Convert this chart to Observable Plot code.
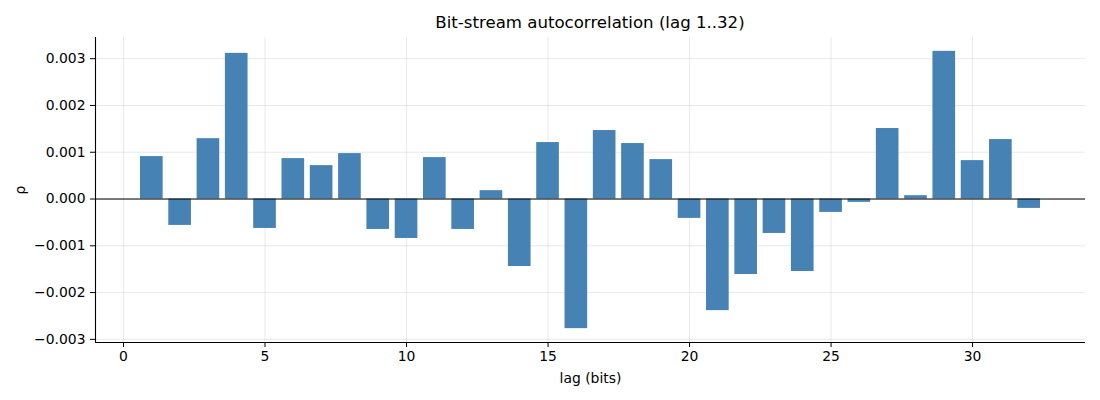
<!DOCTYPE html>
<html>
<head>
<meta charset="utf-8">
<script src="https://cdn.jsdelivr.net/npm/d3@7"></script>
<script src="https://cdn.jsdelivr.net/npm/@observablehq/plot@0.6"></script>
<style>
  body { margin: 0; background: #fff; font-family: "DejaVu Sans", sans-serif; }
  #title { position: relative; height: 37px; width: 1100px; font-size: 16.6px; line-height: 16px; }
  #title span { position: absolute; left: 95px; width: 990px; top: 15px; text-align: center; color: #000; }
</style>
</head>
<body>
<div id="title"><span>Bit-stream autocorrelation (lag 1..32)</span></div>
<div id="chart"></div>
<script>
const lags = d3.range(1, 33);
const rho = [
  0.000907, -0.000564, 0.00129, 0.003114, -0.000629, 0.000864, 0.000714, 0.000971,
  -0.00065, -0.000843, 0.000886, -0.00065, 0.000179, -0.001443, 0.001207, -0.002771,
  0.001464, 0.001186, 0.000843, -0.000414, -0.002386, -0.001614, -0.000736, -0.00155,
  -0.000286, -0.0000714, 0.001507, 0.0000714, 0.003157, 0.000821, 0.001271, -0.0002
];
const xTicks = [0, 5, 10, 15, 20, 25, 30];
const yTicks = [-0.003, -0.002, -0.001, 0, 0.001, 0.002, 0.003];
const xDomain = [-0.99, 33.99];
const yDomain = [-0.003067, 0.003453];

const data = lags.map((l, i) => ({lag: l, rho: rho[i]}));
const fmt = d3.format(".3f");

const chart = Plot.plot({
  width: 1100,
  height: 363,
  marginLeft: 95,
  marginRight: 15,
  marginTop: 0,
  marginBottom: 58,
  style: {fontFamily: "DejaVu Sans, sans-serif", fontSize: "13.9px", color: "#000", background: "#fff"},
  x: {domain: xDomain, ticks: xTicks},
  y: {domain: yDomain, ticks: yTicks},
  marks: [
    Plot.gridX(xTicks, {stroke: "#b0b0b0", strokeOpacity: 0.35, strokeWidth: 0.8}),
    Plot.gridY(yTicks, {stroke: "#b0b0b0", strokeOpacity: 0.35, strokeWidth: 0.8}),
    Plot.rectY(data, {x1: d => d.lag - 0.4, x2: d => d.lag + 0.4, y1: 0, y2: "rho", fill: "#4682b4"}),
    Plot.ruleY([0], {stroke: "#000", strokeWidth: 1}),
    Plot.ruleX([xDomain[0]], {stroke: "#000", strokeWidth: 1.1}),
    Plot.ruleY([yDomain[0]], {stroke: "#000", strokeWidth: 1.1}),
    Plot.axisX(xTicks, {tickSize: 5, tickPadding: 4, fontSize: 13.9, label: "lag (bits)", labelAnchor: "center", labelArrow: "none", labelOffset: 40}),
    Plot.axisY(yTicks, {tickSize: 5, tickPadding: 5, fontSize: 13.9, tickFormat: fmt, label: "ρ", labelAnchor: "center", labelArrow: "none", labelOffset: 80})
  ]
});
document.getElementById("chart").appendChild(chart);
</script>
</body>
</html>
